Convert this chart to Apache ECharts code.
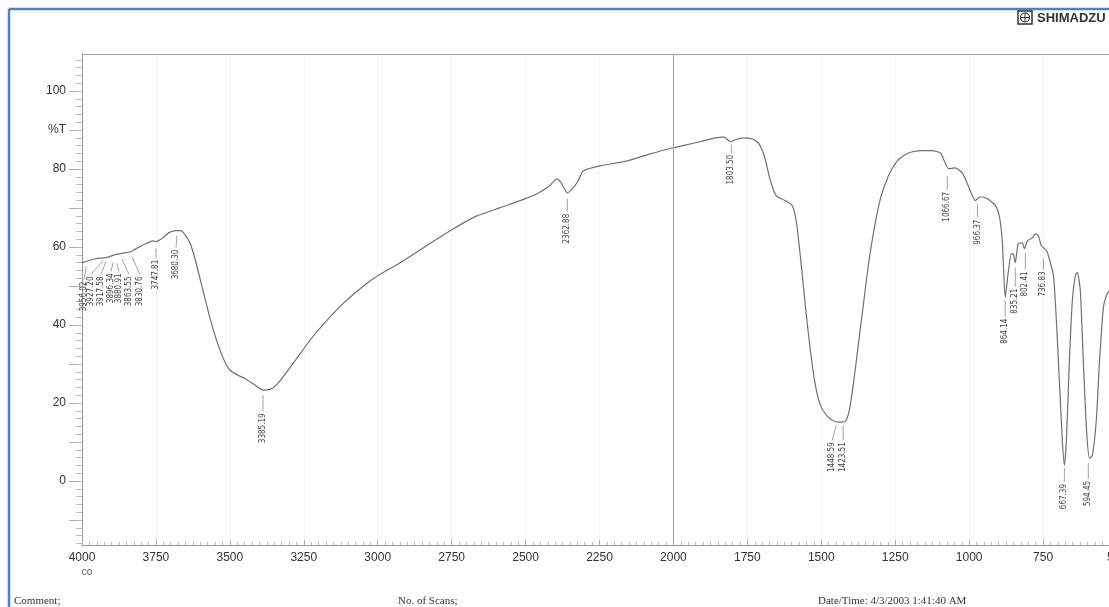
<!DOCTYPE html>
<html>
<head>
<meta charset="utf-8">
<style>html,body{margin:0;padding:0;background:#fff;}#c{width:1109px;height:607px;}</style>
<script src="https://cdn.jsdelivr.net/npm/echarts@6/dist/echarts.min.js"></script>
</head>
<body>
<div id="c"></div>
<script>
// Spectrum (wavenumber cm-1, %T)
const wavenumbers = [4000,3953,3919,3885,3851,3834,3817,3783,3760,3750,3726,3706,3682,3665,3652,3635,3618,3601,3584,3567,3550,3533,3516,3499,3472,3449,3415,3388,3364,3340,3313,3279,3229,3178,3127,3076,3009,2924,2840,2755,2670,2586,2518,2468,2424,2393,2380,2359,2342,2322,2305,2248,2156,2078,2004,1909,1859,1828,1808,1791,1767,1733,1713,1693,1672,1652,1622,1598,1585,1571,1554,1537,1520,1503,1483,1463,1442,1419,1405,1392,1375,1358,1341,1321,1300,1273,1243,1206,1165,1125,1097,1084,1070,1047,1023,1003,979,962,938,911,898,888,878,867,857,850,844,834,820,813,803,786,776,766,756,739,729,715,705,695,685,678,671,661,651,641,634,624,614,603,593,583,570,559,546,536,526];
const transmittance = [56.0,57.0,57.3,58.1,58.6,58.8,59.6,60.9,61.6,61.4,62.4,63.7,64.2,64.2,63.2,61.1,57.0,51.9,46.8,41.7,37.3,33.5,30.4,28.4,27.1,26.3,24.6,23.3,23.5,24.8,27.4,30.9,36.1,40.7,44.8,48.3,52.2,56.0,60.1,64.2,67.8,70.1,71.9,73.4,75.4,77.5,76.5,73.9,74.9,77.0,79.5,80.8,82.1,83.9,85.4,87.0,88.0,88.2,87.0,87.5,88.0,87.7,86.7,83.4,77.0,73.1,71.9,70.6,66.8,57.8,45.0,33.5,24.6,19.4,16.9,15.6,15.1,15.3,18.2,24.6,34.8,45.0,55.2,64.7,72.4,78.3,82.1,84.1,84.7,84.7,84.1,82.1,80.1,80.3,79.0,75.7,71.9,72.9,72.4,70.6,68.0,61.6,47.1,54.0,58.3,58.1,56.0,60.9,61.1,59.6,61.6,62.4,63.4,62.9,60.4,59.1,57.0,52.7,41.2,25.8,10.5,4.1,10.5,30.9,46.3,52.7,53.5,48.8,30.9,13.0,5.9,6.6,15.6,30.9,44.5,47.6,48.8];

// Peak annotations
const peakLabels   = ['3956.02','3927.20','3917.58','3896.34','3880.91','3863.55','3830.76','3747.81','3680.30','3385.19','2362.88','1803.50','1448.59','1423.51','1066.67','966.37','864.14','835.21','802.41','736.83','667.39','594.45'];
const peakWn       = [3986,3929,3919,3895,3882,3865,3831,3750,3679,3388,2359,1804,1449,1426,1074,972,878,844,810,749,678,597];
const peakLabelWn  = [3993,3970,3936,3902,3875,3841,3804,3750,3682,3388,2359,1804,1463,1426,1074,972,878,844,810,749,678,597];
const peakLineTop  = [55.0,56.5,56.3,56.0,55.8,57.0,57.5,59.6,62.9,22.0,72.4,86.2,14.3,14.3,78.3,71.1,46.3,54.7,58.6,57.0,3.3,4.6];
const peakTextTop  = [51.4,52.7,52.7,53.5,53.5,52.7,52.7,57.0,59.6,17.6,68.8,83.9,10.2,10.2,74.4,67.3,41.9,49.6,54.0,54.0,-0.5,0.3];

const yTickLabels = [0,20,40,60,80,100];
const yUnitLabel = '%T';
const yUnitAt = 90;
const xTickStep = 250;

const yMin = -16.4, yMax = 109.5;
const majorY = []; for (let v = -10; v <= 100; v += 10) majorY.push(v);
const minorY = []; for (let v = -16; v <= 108; v += 2) minorY.push(v);

const chart = echarts.init(document.getElementById('c'), null, {renderer: 'canvas'});
const annData = peakLabels.map((t, i) => [peakWn[i], peakLineTop[i], peakLabelWn[i], peakTextTop[i], t]);

chart.setOption({
  animation: false,
  backgroundColor: '#fff',
  grid: {left: 82, right: -8, top: 54, bottom: 62, outerBoundsMode: 'none', containLabel: false},
  xAxis: {
    type: 'value', inverse: true, min: 500, max: 4000, interval: xTickStep,
    axisLine: {show: true, onZero: false, lineStyle: {color: '#9a9a9a', width: 1}},
    axisTick: {show: true, inside: true, length: 5, lineStyle: {color: '#aaa'}},
    minorTick: {show: true, splitNumber: 10, length: 3, lineStyle: {color: '#bbb'}},
    splitLine: {show: true, lineStyle: {color: '#f3f3f3', width: 1}},
    axisLabel: {color: '#333', fontSize: 12, fontFamily: 'Liberation Sans, Arial, sans-serif', margin: 7,
      formatter: v => String(v), showMaxLabel: true, showMinLabel: true, hideOverlap: false}
  },
  yAxis: [{
    type: 'value', min: yMin, max: yMax,
    axisLine: {show: true, onZero: false, lineStyle: {color: '#9a9a9a', width: 1}},
    axisTick: {show: true, customValues: majorY, length: 13, lineStyle: {color: '#aaa'}},
    axisLabel: {
      customValues: yTickLabels.concat([yUnitAt]),
      formatter: v => (v === yUnitAt ? yUnitLabel : String(v)),
      color: '#333', fontSize: 12, fontFamily: 'Liberation Sans, Arial, sans-serif', margin: 16
    },
    splitLine: {show: false}
  }, {
    type: 'value', min: yMin, max: yMax, position: 'left',
    axisLine: {show: false, onZero: false},
    axisTick: {show: true, customValues: minorY, length: 6, lineStyle: {color: '#bbb'}},
    axisLabel: {show: false},
    splitLine: {show: false}
  }],
  series: [{
    type: 'line',
    data: wavenumbers.map((w, i) => [w, transmittance[i]]),
    showSymbol: false,
    smooth: 0.2,
    lineStyle: {color: '#707070', width: 1.2},
    markLine: {
      silent: true, symbol: 'none', label: {show: false},
      lineStyle: {color: '#a0a0a0', width: 1, type: 'solid'},
      data: [{xAxis: 2000}, {yAxis: yMax}]
    },
    z: 3
  }, {
    type: 'custom',
    data: annData,
    renderItem: function (params, api) {
      const p1 = api.coord([api.value(0), api.value(1)]);
      const p2 = api.coord([api.value(2), api.value(3)]);
      const t = annData[params.dataIndex][4];
      return {
        type: 'group',
        children: [{
          type: 'line',
          shape: {x1: p1[0], y1: p1[1], x2: p2[0], y2: p2[1] - 1},
          style: {stroke: '#8a8a8a', lineWidth: 0.8}
        }, {
          type: 'text',
          x: p2[0], y: p2[1] + 1,
          rotation: Math.PI / 2,
          style: {
            text: t, align: 'right', verticalAlign: 'middle',
            fill: '#444', fontSize: 8,
            fontFamily: 'Liberation Sans Narrow, DejaVu Sans Condensed, Liberation Sans, sans-serif'
          }
        }]
      };
    },
    z: 4
  }],
  graphic: [
    {type: 'line', shape: {x1: 9, y1: 9, x2: 1109, y2: 9}, style: {stroke: '#4f81c4', lineWidth: 2.5}},
    {type: 'line', shape: {x1: 9, y1: 9, x2: 9, y2: 607}, style: {stroke: '#4f81c4', lineWidth: 2.5}},
    {type: 'rect', shape: {x: 1018, y: 11, width: 14, height: 13}, style: {fill: 'none', stroke: '#333', lineWidth: 1.5}},
    {type: 'circle', shape: {cx: 1025, cy: 17.5, r: 4.5}, style: {fill: 'none', stroke: '#333', lineWidth: 1.2}},
    {type: 'line', shape: {x1: 1020.5, y1: 17.5, x2: 1029.5, y2: 17.5}, style: {stroke: '#333', lineWidth: 1}},
    {type: 'line', shape: {x1: 1025, y1: 13, x2: 1025, y2: 22}, style: {stroke: '#333', lineWidth: 1}},
    {type: 'text', x: 1037, y: 18, style: {text: 'SHIMADZU', fill: '#333', font: 'bold 13px Liberation Sans, Arial, sans-serif', verticalAlign: 'middle'}},
    {type: 'text', x: 87, y: 572, style: {text: 'co', fill: '#555', font: '10px Liberation Sans, Arial, sans-serif', align: 'center', verticalAlign: 'middle'}},
    {type: 'text', x: 14, y: 601, style: {text: 'Comment;', fill: '#333', font: '11px Liberation Serif, Times New Roman, serif', verticalAlign: 'middle'}},
    {type: 'text', x: 398, y: 601, style: {text: 'No. of Scans;', fill: '#333', font: '11px Liberation Serif, Times New Roman, serif', verticalAlign: 'middle'}},
    {type: 'text', x: 818, y: 601, style: {text: 'Date/Time: 4/3/2003 1:41:40 AM', fill: '#333', font: '11px Liberation Serif, Times New Roman, serif', verticalAlign: 'middle'}}
  ]
});
</script>
</body>
</html>
